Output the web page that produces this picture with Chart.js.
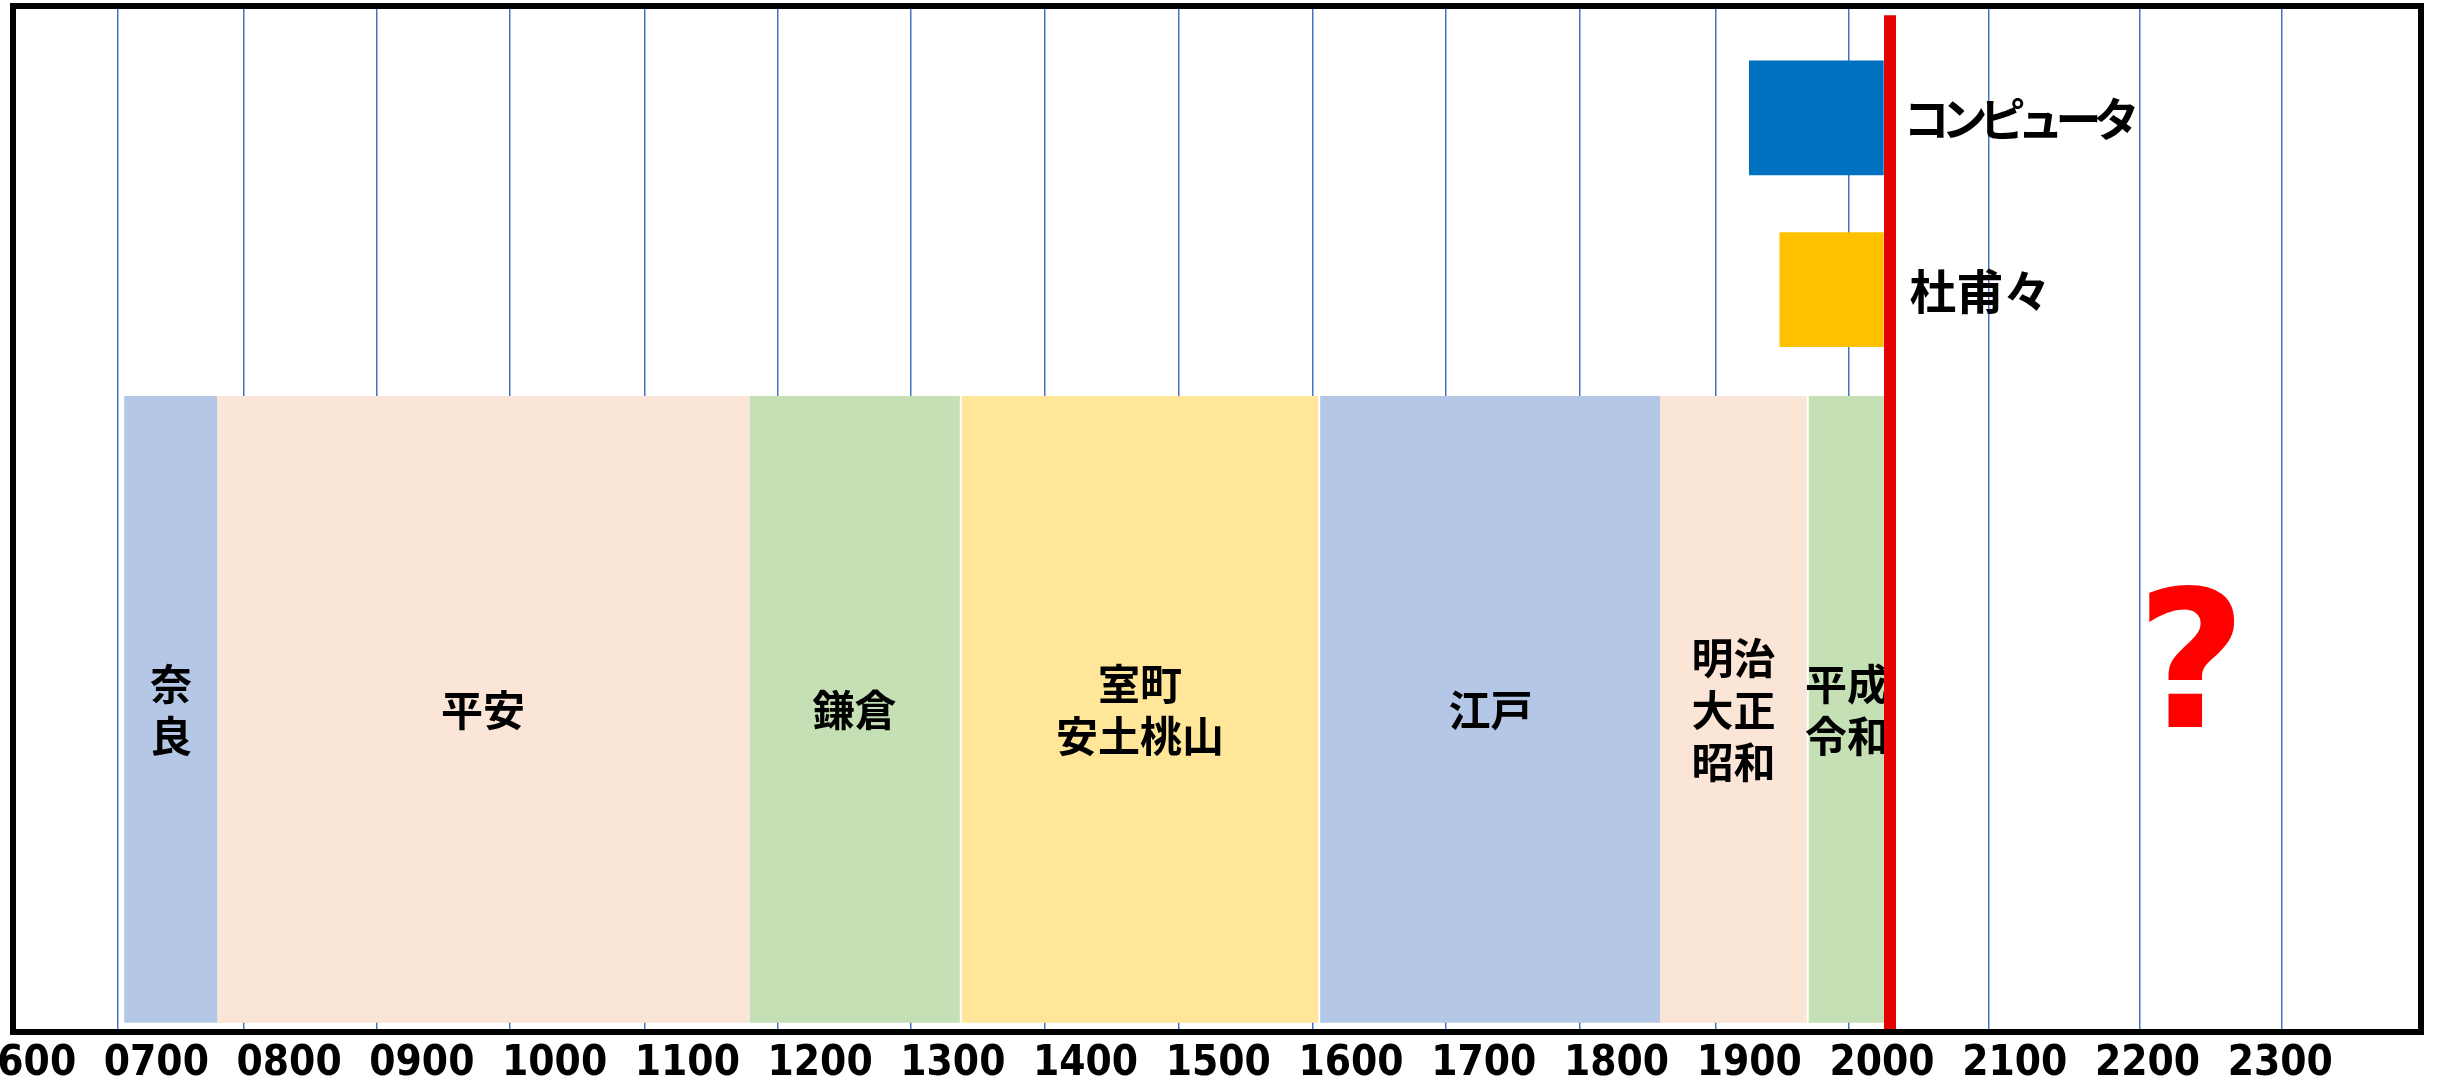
<!DOCTYPE html>
<html>
<head>
<meta charset="utf-8">
<script src="https://cdn.jsdelivr.net/npm/chart.js@4.4.1/dist/chart.umd.min.js"></script>
<style>
  html, body { margin: 0; padding: 0; background: #ffffff; overflow: hidden; }
  canvas { display: block; }
</style>
</head>
<body>
<canvas id="c" width="2437" height="1082"></canvas>
<script>
// ---------- data ----------
const tickYears  = [600, 700, 800, 900, 1000, 1100, 1200, 1300, 1400, 1500, 1600, 1700, 1800, 1900, 2000, 2100, 2200, 2300];
const tickLabels = ['0600','0700','0800','0900','1000','1100','1200','1300','1400','1500','1600','1700','1800','1900','2000','2100','2200','2300'];
// hand-drawn blue guide lines (as placed in the picture)
const gridYears  = [671, 766, 866, 966, 1068, 1168, 1268, 1369, 1470, 1571, 1671, 1772, 1875, 1975, 2080, 2194, 2301];

const periodLines = [['奈', '良'], ['平安'], ['鎌倉'], ['室町', '安土桃山'], ['江戸'], ['明治', '大正', '昭和'], ['平成', '令和']];
const periodStart = [676, 746, 1147, 1307, 1577, 1833, 1945];
const periodEnd   = [746, 1146, 1305, 1575, 1833, 1943, 2002];

const eventNames = ['コンピュータ', '杜甫々'];
const eventStart = [1900, 1923];
const eventEnd   = [2001, 2001];

const nowYear = 2006;
const futureMark = '?';
const futureYear = 2233;

// lanes on the hidden vertical scale (0 = top, 100 = bottom)
const laneComputer = 10.9;
const laneTohoho   = 27.65;
const lanePeriods  = 68.55;

// ---------- styles ----------
const periodColors = ['#B4C7E7', '#FBE5D6', '#C5E0B4', '#FFE699', '#B4C7E7', '#FBE5D6', '#C5E0B4'];
const eventColors  = ['#0070C0', '#FFC000'];

const datasets = [
  {
    type: 'line',
    label: 'now',
    data: [{ x: nowYear, y: 0.9 }, { x: nowYear, y: 100 }],
    borderColor: '#E20000',
    borderWidth: 12,
    borderCapStyle: 'butt',
    pointRadius: 0,
    fill: false,
    tension: 0
  },
  {
    type: 'bar',
    label: 'periods',
    data: periodStart.map((s, i) => ({ x: [s, periodEnd[i]], y: lanePeriods })),
    backgroundColor: periodColors,
    borderWidth: 0,
    barThickness: 626,
    grouped: false
  },
  {
    type: 'bar',
    label: eventNames[0],
    data: [{ x: [eventStart[0], eventEnd[0]], y: laneComputer }],
    backgroundColor: eventColors[0],
    borderWidth: 0,
    barThickness: 114,
    grouped: false
  },
  {
    type: 'bar',
    label: eventNames[1],
    data: [{ x: [eventStart[1], eventEnd[1]], y: laneTohoho }],
    backgroundColor: eventColors[1],
    borderWidth: 0,
    barThickness: 114,
    grouped: false
  }
];

const overlay = {
  id: 'overlay',
  beforeDatasetDraw(chart, args) {
    if (args.index !== 0) return;
    const ctx = chart.ctx;
    ctx.save();
    ctx.fillStyle = '#000000';
    ctx.textAlign = 'center';
    ctx.textBaseline = 'middle';
    ctx.font = 'bold 42px "Noto Sans CJK JP"';
    const pm = chart.getDatasetMeta(1);
    pm.data.forEach((el, i) => {
      const cx = (el.x + el.base) / 2;
      const lines = periodLines[i];
      const lh = 52;
      const y0 = el.y - (lines.length - 1) * lh / 2 + 1;
      lines.forEach((t, k) => ctx.fillText(t, cx, y0 + k * lh));
    });

    // event labels to the right of the bars
    ctx.textAlign = 'left';
    const e1 = chart.getDatasetMeta(2).data[0];
    const e2 = chart.getDatasetMeta(3).data[0];
    ctx.font = 'bold 46px "Noto Sans CJK JP"';
    if ('letterSpacing' in ctx) ctx.letterSpacing = '-8px';
    ctx.fillText(eventNames[0], e1.x + 20, e1.y + 1);
    if ('letterSpacing' in ctx) ctx.letterSpacing = '0px';
    ctx.font = 'bold 47px "Noto Sans CJK JP"';
    ctx.fillText(eventNames[1], e2.x + 26, e2.y + 1);

    // future question mark
    const xs = chart.scales.x;
    const ys = chart.scales.y;
    ctx.fillStyle = '#FF0000';
    ctx.textAlign = 'center';
    ctx.textBaseline = 'alphabetic';
    ctx.font = 'bold 190px "DejaVu Sans"';
    ctx.fillText(futureMark, xs.getPixelForValue(futureYear), ys.getPixelForValue(70.3));
    ctx.restore();
  },
  afterDraw(chart) {
    const { ctx, chartArea: a } = chart;
    ctx.save();
    ctx.strokeStyle = '#000000';
    ctx.lineWidth = 6;
    ctx.strokeRect(a.left, a.top, a.right - a.left, a.bottom - a.top);
    ctx.restore();
  }
};

new Chart(document.getElementById('c'), {
  type: 'bar',
  data: { datasets },
  options: {
    indexAxis: 'y',
    responsive: false,
    animation: false,
    layout: { padding: { left: 13, right: 16, top: 6, bottom: 0 } },
    plugins: { legend: { display: false }, tooltip: { enabled: false } },
    scales: {
      x: {
        type: 'linear',
        position: 'bottom',
        min: 592,
        max: 2406,
        beginAtZero: false,
        grid: { display: false, drawTicks: false },
        border: { display: false },
        afterBuildTicks: (s) => { s.ticks = tickYears.map(v => ({ value: v })); },
        afterFit: (s) => { s.paddingLeft = 0; s.paddingRight = 0; s.height = 50; },
        ticks: {
          autoSkip: false,
          maxRotation: 0,
          padding: 11,
          color: '#000000',
          font: { family: '"DejaVu Sans Condensed", "DejaVu Sans"', weight: 'bold', size: 42, lineHeight: 1 },
          callback: (v, i) => tickLabels[i]
        }
      },
      xg: {
        type: 'linear',
        axis: 'x',
        position: 'top',
        min: 592,
        max: 2406,
        z: 1,
        grid: { color: '#4472C4', lineWidth: 1.5, drawTicks: false },
        border: { display: false },
        ticks: { display: false },
        afterBuildTicks: (s) => { s.ticks = gridYears.map(v => ({ value: v })); }
      },
      y: {
        type: 'linear',
        min: 0,
        max: 100,
        reverse: true,
        offset: false,
        display: false
      }
    }
  },
  plugins: [overlay]
});
</script>
</body>
</html>
